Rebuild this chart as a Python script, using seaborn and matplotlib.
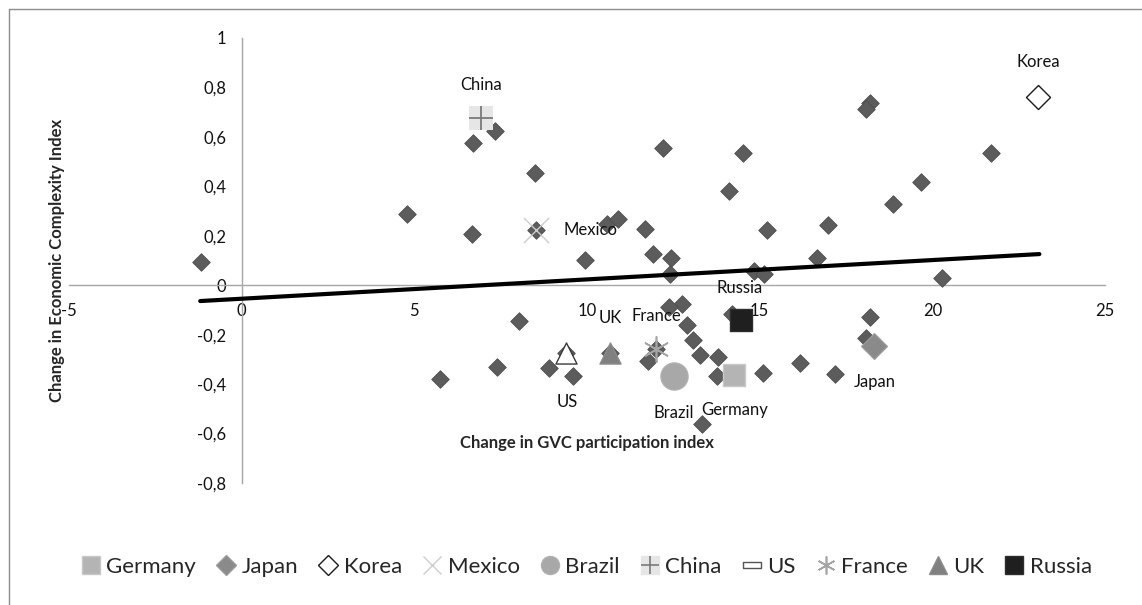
import numpy as np
import pandas as pd
import matplotlib.pyplot as plt
import seaborn as sns
from matplotlib.lines import Line2D
from matplotlib.ticker import FuncFormatter

# --- Data: change in GVC participation vs change in ECI (all countries, diamond series) ---
gvc_change = [-1.19, 4.79, 6.70, 7.33, 8.48, 6.67, 8.51, 9.95, 10.58, 10.90,
              11.67, 12.20, 11.91, 12.44, 12.41, 14.52, 14.12, 15.21, 14.85, 15.13,
              12.75, 18.20, 18.08, 21.69, 19.68, 18.85, 16.99, 16.66, 20.27, 5.74,
              7.38, 8.02, 8.91, 9.59, 9.38, 10.68, 12.00, 11.77, 12.37, 12.90,
              13.06, 13.26, 13.78, 13.76, 14.20, 15.11, 13.33, 18.20, 18.08, 16.17,
              17.19]
eci_change = [0.093, 0.290, 0.576, 0.625, 0.452, 0.206, 0.223, 0.100, 0.247, 0.266,
              0.227, 0.556, 0.125, 0.112, 0.045, 0.536, 0.382, 0.225, 0.058, 0.045,
              -0.074, 0.738, 0.711, 0.533, 0.416, 0.328, 0.243, 0.112, 0.030, -0.378,
              -0.331, -0.146, -0.335, -0.368, -0.274, -0.274, -0.260, -0.308, -0.088, -0.162,
              -0.223, -0.283, -0.290, -0.368, -0.115, -0.355, -0.560, -0.128, -0.212, -0.314,
              -0.360]

# highlighted countries
countries = ["Germany", "Japan", "Korea", "Mexico", "Brazil", "China", "US", "France", "UK", "Russia"]
country_gvc = [14.27, 18.30, 23.06, 8.51, 12.51, 6.93, 9.38, 12.00, 10.68, 14.46]
country_eci = [-0.364, -0.247, 0.762, 0.223, -0.367, 0.675, -0.274, -0.260, -0.274, -0.139]

# linear trend line (end points)
trend_gvc = [-1.2, 23.1]
trend_eci = [-0.064, 0.126]

x_ticks = [-5, 0, 5, 10, 15, 20, 25]
y_ticks = [-0.8, -0.6, -0.4, -0.2, 0, 0.2, 0.4, 0.6, 0.8, 1]

sns.set_theme(style="white")
plt.rcParams['font.family'] = ['Lato', 'DejaVu Sans']

# marker styles per country: marker, size (s), face, edge, linewidth
us_box = [(-1, -0.3), (1, -0.3), (1, 0.3), (-1, 0.3), (-1, -0.3)]
styles = {
    "Germany": dict(marker='s', s=250, color='#b4b4b4', edgecolor='#c8c8c8', linewidth=1),
    "Japan":   dict(marker='D', s=170, color='#8a8a8a', edgecolor='#9a9a9a', linewidth=1),
    "Korea":   dict(marker='D', s=150, color='white', edgecolor='#1a1a1a', linewidth=1),
    "Mexico":  dict(marker='x', s=330, color='#cdcdcd', linewidth=1),
    "Brazil":  dict(marker='o', s=380, color='#a8a8a8', edgecolor='#b0b0b0', linewidth=1),
    "China":   dict(marker='+', s=300, color='#7a7a7a', linewidth=1.3),
    "US":      dict(marker='^', s=230, color='white', edgecolor='#3a3a3a', linewidth=1),
    "France":  dict(marker=(6, 2, 0), s=330, color='#a5a5a5', linewidth=1.2),
    "UK":      dict(marker='^', s=230, color='#808080', edgecolor='#8c8c8c', linewidth=1),
    "Russia":  dict(marker='s', s=250, color='#1f1f1f', edgecolor='#2e2e2e', linewidth=1),
}
# label offsets in points (dx, dy, ha)
label_pos = {
    "Germany": (0, -25, 'center'), "Japan": (1, -26, 'center'), "Korea": (0, 25, 'center'),
    "Mexico": (20, 0, 'left'), "Brazil": (0, -27, 'center'), "China": (0, 24, 'center'),
    "US": (1, -35, 'center'), "France": (0, 24, 'center'), "UK": (0, 25, 'center'),
    "Russia": (-1, 23, 'center'),
}

fig = plt.figure(figsize=(11.42, 6.05), dpi=100)
ax = fig.add_axes([69 / 1142, 1 - 483 / 605, 1036 / 1142, 445 / 605])

df = pd.DataFrame({"gvc": gvc_change, "eci": eci_change})
sns.scatterplot(data=df, x="gvc", y="eci", marker='D', s=80, color='#5c5c5c',
                edgecolor='#4d4d4d', linewidth=0.6, ax=ax, zorder=3, legend=False)

sns.lineplot(x=trend_gvc, y=trend_eci, color='black', linewidth=3, ax=ax, zorder=4)

for name, gx, gy in zip(countries, country_gvc, country_eci):
    if name == "China":
        sns.scatterplot(x=[gx], y=[gy], marker='s', s=300, color='#e6e6e6', linewidth=0,
                        ax=ax, zorder=5, legend=False)
    sns.scatterplot(x=[gx], y=[gy], ax=ax, zorder=6, legend=False, **styles[name])
    dx, dy, ha = label_pos[name]
    ax.annotate(name, (gx, gy), xytext=(dx, dy), textcoords='offset points',
                ha=ha, va='center', fontsize=12, color='#111111', zorder=7)

ax.set_xlim(-5, 25)
ax.set_ylim(-0.8, 1)
ax.set_xticks(x_ticks)
ax.set_yticks(y_ticks)
fmt = FuncFormatter(lambda v, p: f"{v:g}".replace('.', ','))
ax.xaxis.set_major_formatter(fmt)
ax.yaxis.set_major_formatter(fmt)

for side in ['top', 'right']:
    ax.spines[side].set_visible(False)
ax.spines['left'].set_position(('data', 0))
ax.spines['bottom'].set_position(('data', 0))
for side in ['left', 'bottom']:
    ax.spines[side].set_color('#a6a6a6')
    ax.spines[side].set_linewidth(1)
ax.tick_params(axis='both', direction='out', length=4, width=1, color='#a6a6a6',
               labelsize=12, labelcolor='#111111')
ax.tick_params(axis='x', pad=9)
ax.tick_params(axis='y', pad=7)

ax.set_xlabel("Change in GVC participation index", fontsize=12, fontweight='bold')
ax.set_ylabel("Change in Economic Complexity Index", fontsize=12, fontweight='bold')
ax.xaxis.set_label_coords(0.5, 0.108)
ax.yaxis.set_label_coords(-0.004, 0.5)

# legend
handles = []
for name in countries:
    st = styles[name]
    if name == "China":
        bg = Line2D([], [], marker='s', ms=13, mfc='#e6e6e6', mec='#e6e6e6', ls='none')
        fg = Line2D([], [], marker='+', ms=13, mec='#7a7a7a', mew=1.2, ls='none')
        handles.append((bg, fg))
        continue
    if name == "US":
        handles.append(Line2D([], [], marker=us_box, ms=13, mfc='white', mec='#555555',
                              mew=1, ls='none'))
        continue
    ms = 13 if st['marker'] != 'D' else 10
    face = st['color']
    edge = st.get('edgecolor', face)
    handles.append(Line2D([], [], marker=st['marker'], ms=ms, mfc=face, mec=edge,
                          mew=st['linewidth'], ls='none'))

fig.legend(handles, countries, loc='center', bbox_to_anchor=(0.513, 0.063), ncol=10,
           frameon=False, fontsize=16, handlelength=1.0, handletextpad=0.2,
           columnspacing=0.85)

# chart-area border (left and top edges visible)
fig.add_artist(Line2D([9 / 1142, 9 / 1142], [0, 1 - 9 / 605], transform=fig.transFigure,
                      color='#8c8c8c', linewidth=1))
fig.add_artist(Line2D([9 / 1142, 1], [1 - 9 / 605, 1 - 9 / 605], transform=fig.transFigure,
                      color='#8c8c8c', linewidth=1))

fig.savefig("out.png", dpi=100)
